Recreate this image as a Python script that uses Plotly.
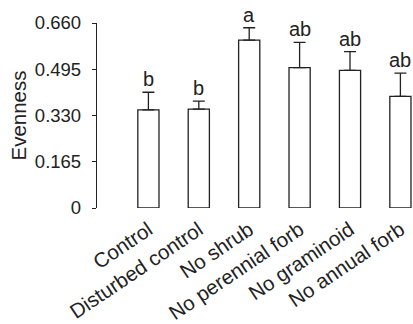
import plotly.graph_objects as go

categories = ["Control", "Disturbed control", "No shrub", "No perennial forb", "No graminoid", "No annual forb"]
means = [0.350, 0.353, 0.599, 0.501, 0.491, 0.398]
errors = [0.063, 0.028, 0.044, 0.090, 0.067, 0.083]
letters = ["b", "b", "a", "ab", "ab", "ab"]
yticks = [0, 0.165, 0.330, 0.495, 0.660]
yticktext = ["0", "0.165", "0.330", "0.495", "0.660"]

FONT = "Liberation Sans, Arial, sans-serif"
INK = "#222"

fig = go.Figure()
fig.add_trace(go.Bar(
    x=list(range(len(categories))),
    y=means,
    width=0.42,
    marker=dict(color="white", line=dict(color=INK, width=1.3)),
    error_y=dict(type="data", symmetric=False, array=errors,
                 arrayminus=[0] * len(errors), color=INK, thickness=1.3, width=6),
))

for i, (m, e, l) in enumerate(zip(means, errors, letters)):
    fig.add_annotation(x=i, y=m + e, text=l, showarrow=False,
                       yanchor="bottom", yshift=0,
                       font=dict(family=FONT, size=20, color=INK))

fig.update_layout(
    width=413, height=324,
    margin=dict(l=97, r=0, t=23, b=116),
    plot_bgcolor="white", paper_bgcolor="white",
    showlegend=False,
    font=dict(family=FONT, size=18, color=INK),
    xaxis=dict(range=[-1.02, 5.25], tickmode="array",
               tickvals=list(range(len(categories))), ticktext=categories,
               tickangle=-34, showline=False, ticks="", showgrid=False,
               zeroline=False, tickfont=dict(size=20.5), ticklabelstandoff=5),
    yaxis=dict(range=[0, 0.66], tickmode="array", tickvals=yticks,
               ticktext=yticktext, showline=True, linecolor=INK, linewidth=1.3,
               ticks="outside", ticklen=4, tickwidth=1.3, tickcolor=INK,
               showgrid=False, zeroline=False, ticklabelstandoff=7,
               tickfont=dict(size=18.5),
               title=dict(text="Evenness", font=dict(size=20.5), standoff=2)),
)

fig.write_html("out.html")
